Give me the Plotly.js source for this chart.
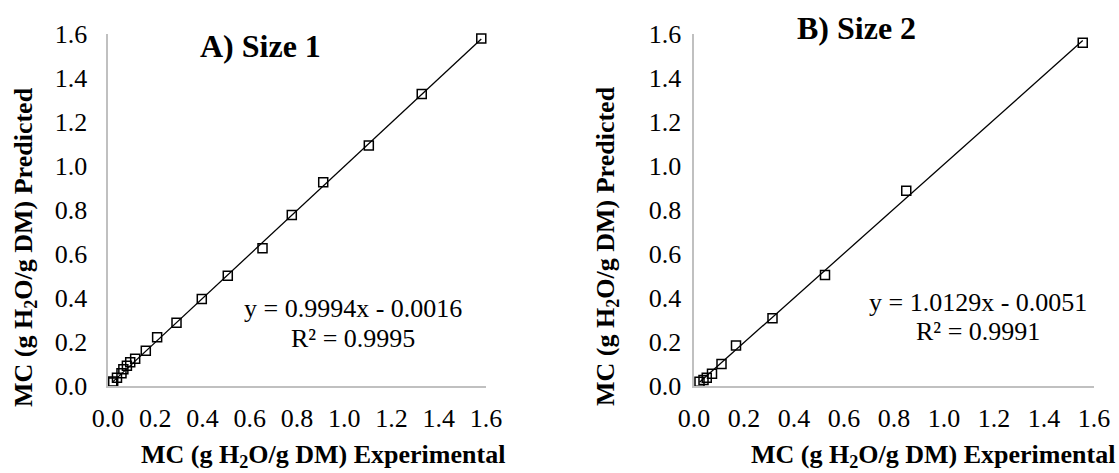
<!DOCTYPE html>
<html>
<head>
<meta charset="utf-8">
<script src="https://cdn.plot.ly/plotly-3.0.1.min.js"></script>
<style>
  html, body { margin: 0; padding: 0; background: #ffffff; }
  #chart { width: 1119px; height: 473px; }
</style>
</head>
<body>
<div id="chart"></div>
<script>
// ---- Data ----
const panelTitles = ["A) Size 1", "B) Size 2"];

const sizeOneExperimental = [0.018, 0.022, 0.038, 0.057, 0.065, 0.080, 0.094, 0.115, 0.160, 0.208, 0.290, 0.397, 0.507, 0.654, 0.778, 0.911, 1.104, 1.328, 1.580];
const sizeOnePredicted    = [0.016, 0.020, 0.038, 0.058, 0.076, 0.092, 0.108, 0.124, 0.160, 0.222, 0.288, 0.395, 0.501, 0.626, 0.777, 0.926, 1.093, 1.327, 1.580];

const sizeTwoExperimental = [0.022, 0.038, 0.051, 0.072, 0.110, 0.168, 0.314, 0.524, 0.849, 1.555];
const sizeTwoPredicted    = [0.019, 0.027, 0.038, 0.056, 0.100, 0.184, 0.308, 0.505, 0.888, 1.560];

const fitSlopes     = [0.9994, 1.0129];
const fitIntercepts = [-0.0016, -0.0051];
const fitEquations  = ["y = 0.9994x - 0.0016", "y = 1.0129x - 0.0051"];
const fitR2Labels   = ["R² = 0.9995", "R² = 0.9991"];

const tickValues = [0, 0.2, 0.4, 0.6, 0.8, 1.0, 1.2, 1.4, 1.6];
const tickLabels = ["0.0", "0.2", "0.4", "0.6", "0.8", "1.0", "1.2", "1.4", "1.6"];

const xAxisTitle = "MC (g H<sub>2</sub>O/g DM) Experimental";
const yAxisTitle = "MC (g H<sub>2</sub>O/g DM) Predicted";

// ---- Build chart ----
const W = 1119, H = 473;
const px = v => v / W;
const py = v => 1 - v / H;
const FONT = "'Liberation Serif', 'Times New Roman', serif";

function trend(xs, slope, intercept) {
  const x0 = Math.min(...xs), x1 = Math.max(...xs);
  return { x: [x0, x1], y: [slope * x0 + intercept, slope * x1 + intercept] };
}

const series = [
  { xs: sizeOneExperimental, ys: sizeOnePredicted, xa: "x", ya: "y" },
  { xs: sizeTwoExperimental, ys: sizeTwoPredicted, xa: "x2", ya: "y2" }
];

const traces = [];
series.forEach((s, i) => {
  const t = trend(s.xs, fitSlopes[i], fitIntercepts[i]);
  traces.push({
    x: t.x, y: t.y, xaxis: s.xa, yaxis: s.ya, mode: "lines",
    line: { color: "#000000", width: 1.3 }, hoverinfo: "skip", showlegend: false, cliponaxis: false
  });
  traces.push({
    x: s.xs, y: s.ys, xaxis: s.xa, yaxis: s.ya, mode: "markers",
    marker: { symbol: "square-open", size: 9, color: "#000000", line: { width: 1.5, color: "#000000" } },
    showlegend: false, cliponaxis: false
  });
});

function xAxis(domain, anchor) {
  return {
    domain: domain, anchor: anchor, range: [0, 1.6], fixedrange: true,
    tickvals: tickValues, ticktext: tickLabels, ticks: "", ticklabelstandoff: 8,
    showgrid: false, zeroline: false, showline: true, linecolor: "#c0c0c0", linewidth: 1.6,
    tickfont: { family: FONT, size: 26, color: "#000000" }
  };
}
function yAxis(domain, anchor, standoff) {
  return {
    domain: domain, anchor: anchor, range: [0, 1.6], fixedrange: true,
    tickvals: tickValues, ticktext: tickLabels, ticks: "", ticklabelstandoff: standoff,
    showgrid: false, zeroline: false, showline: true, linecolor: "#c0c0c0", linewidth: 1.6,
    tickfont: { family: FONT, size: 26, color: "#000000" }
  };
}

const yDom = [(H - 386) / H, (H - 34) / H];

const annotations = [];
function ann(text, x, y, size, bold, angle) {
  annotations.push({
    text: bold ? "<b>" + text + "</b>" : text,
    x: px(x), y: py(y), xref: "paper", yref: "paper",
    xanchor: "center", yanchor: "middle", showarrow: false,
    textangle: angle || 0,
    font: { family: FONT, size: size, color: "#000000" }
  });
}
ann(panelTitles[0], 260, 46, 32, true);
ann(panelTitles[1], 856, 28, 32, true);
ann(xAxisTitle, 323, 456, 26, true);
ann(xAxisTitle, 933, 456, 26, true);
ann(yAxisTitle, 25, 247, 26, true, -90);
ann(yAxisTitle, 607, 246, 26, true, -90);
ann(fitEquations[0], 353, 308, 26, false);
ann(fitR2Labels[0], 353, 338, 26, false);
ann(fitEquations[1], 978, 302, 26, false);
ann(fitR2Labels[1], 978, 331, 26, false);

const layout = {
  width: W, height: H,
  margin: { l: 0, r: 0, t: 0, b: 0, pad: 0 },
  paper_bgcolor: "#ffffff", plot_bgcolor: "#ffffff",
  showlegend: false,
  xaxis: xAxis([px(108), px(486)], "y"),
  yaxis: yAxis(yDom, "x", 14),
  xaxis2: xAxis([px(694), px(1094)], "y2"),
  yaxis2: yAxis(yDom, "x2", 6),
  annotations: annotations
};

Plotly.newPlot("chart", traces, layout, { displayModeBar: false, staticPlot: true });
</script>
</body>
</html>
